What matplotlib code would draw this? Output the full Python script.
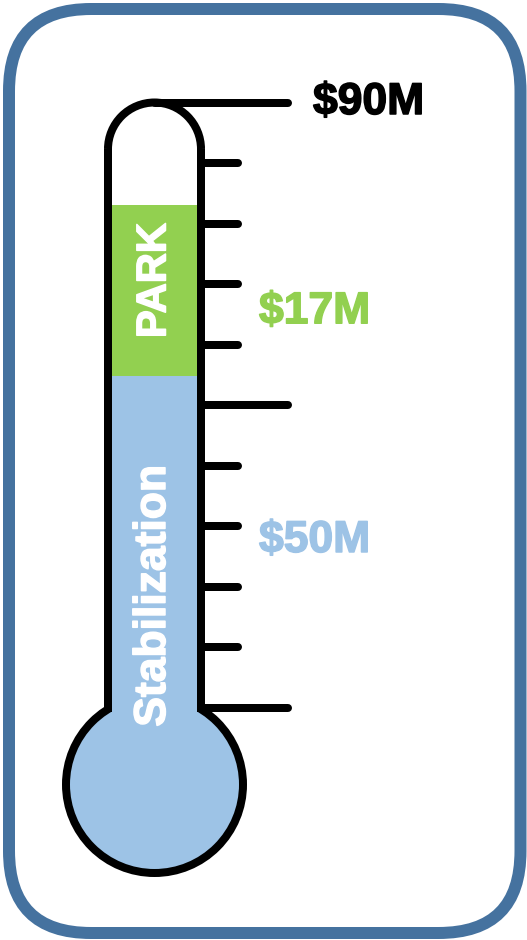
import numpy as np
import matplotlib.pyplot as plt
import matplotlib.patheffects as pe
from matplotlib.patches import Rectangle, Ellipse, Arc, FancyBboxPatch

plt.rcParams['font.family'] = ['Liberation Sans', 'DejaVu Sans']

# valeurs du thermometre ($M)
goal = 90
amounts = [50, 17]
segment_names = ['Stabilization', 'PARK']
segment_colors = ['#9dc3e6', '#92d050']
# niveaux de remplissage (echelle 0..90)
fill_levels = [49.3, 74.8]
tick_values = [0, 9, 18, 27, 36, 45, 54, 63, 72, 81]
long_ticks = [0, 45]
amount_label_y = [24.9, 58.9]
name_label_y = [16.7, 63.5]

W, H = 527, 940
px_per_unit = 605.5 / 90          # pixels par $M
lw = 8 * 72 / 100                 # 8 px en points

fig = plt.figure(figsize=(W / 100, H / 100), dpi=100)

# cadre arrondi en pixels
ax_bg = fig.add_axes([0, 0, 1, 1])
ax_bg.set_xlim(0, W)
ax_bg.set_ylim(H, 0)
ax_bg.axis('off')
ax_bg.add_patch(FancyBboxPatch((9, 9), 511.5, 924,
                               boxstyle='round,pad=0,rounding_size=82',
                               fc='white', ec='#45729f', lw=12 * 72 / 100))

# axe principal: x en pixels, y en $M
ax = fig.add_axes([0, 0, 1, 1])
ax.patch.set_alpha(0)
ax.set_xlim(0, W)
ax.set_ylim(-232 / px_per_unit, 708 / px_per_unit)
ax.axis('off')

cx = 154.5
half_w = 46.5
inner_l, inner_r = 112, 197
bulb_y = -76.5 / px_per_unit
bulb_r = 88.5
top_cy = goal - half_w / px_per_unit

# bulbe
ax.add_patch(Ellipse((cx, bulb_y), 2 * bulb_r, 2 * bulb_r / px_per_unit,
                     fc=segment_colors[0], ec='black', lw=lw, zorder=1))

# remplissage
bottoms = [bulb_y, fill_levels[0]]
for i in range(len(amounts)):
    ax.add_patch(Rectangle((inner_l, bottoms[i]), inner_r - inner_l,
                           fill_levels[i] - bottoms[i],
                           fc=segment_colors[i], ec='none', zorder=2))

# tube
for x in [cx - half_w, cx + half_w]:
    ax.plot([x, x], [-0.6, top_cy], color='black', lw=lw, zorder=3,
            solid_capstyle='butt')
ax.add_patch(Arc((cx, top_cy), 2 * half_w, 2 * half_w / px_per_unit,
                 theta1=0, theta2=180, color='black', lw=lw, zorder=3))

# graduations
for v in tick_values:
    x_end = 288 if v in long_ticks else 238
    ax.plot([cx + half_w, x_end], [v, v], color='black', lw=lw,
            solid_capstyle='round', zorder=3)
ax.plot([cx, 288], [goal, goal], color='black', lw=lw,
        solid_capstyle='round', zorder=3)


def gras(couleur):
    # epaissit un peu les lettres
    return [pe.withStroke(linewidth=1.1, foreground=couleur)]


# textes
ax.text(313, goal, f'${goal}M', fontsize=32, fontweight='bold',
        color='black', ha='left', va='center', path_effects=gras('black'))
for i in range(len(amounts)):
    ax.text(259, amount_label_y[i], f'${amounts[i]}M', fontsize=32,
            fontweight='bold', color=segment_colors[i],
            ha='left', va='center', path_effects=gras(segment_colors[i]))
ax.text(cx, name_label_y[1], segment_names[1], fontsize=30, fontweight='bold',
        color='white', rotation=90, ha='center', va='center', zorder=4,
        path_effects=gras('white'))
ax.text(cx - 1, name_label_y[0], segment_names[0], fontsize=32,
        fontweight='bold', color='white', rotation=90,
        ha='center', va='center', zorder=4, path_effects=gras('white'))

fig.savefig('out.png', dpi=100)
